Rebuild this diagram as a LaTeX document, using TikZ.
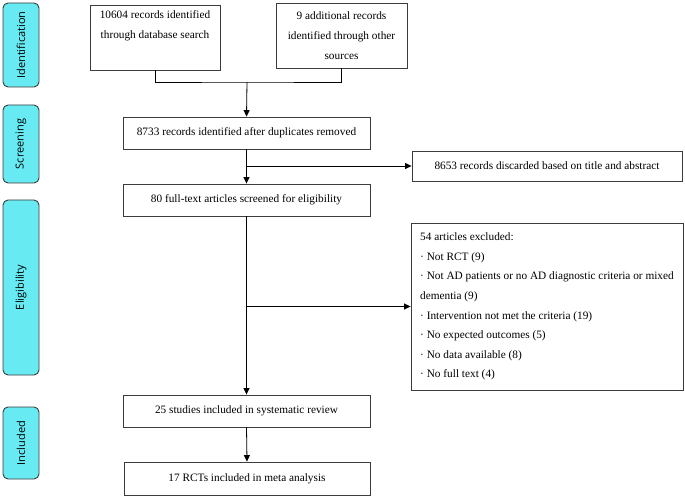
\documentclass[tikz,border=0pt]{standalone}
\usepackage{fontspec}
\setmainfont{Liberation Serif}
\newfontfamily\phasefont{Open Sans}
\usepackage{tikz}
\usetikzlibrary{arrows.meta}
\definecolor{phasecyan}{RGB}{104,234,242}
\definecolor{boxline}{RGB}{60,60,60}
\tikzset{
  recbox/.style={draw=boxline,line width=0.9pt,fill=white,align=center,
    font=\fontsize{11.3}{20}\selectfont,inner sep=2pt},
  phase/.style={draw=boxline,line width=0.9pt,fill=phasecyan,rounded corners=5pt,
    rotate=90,font=\phasefont\fontsize{11}{13}\selectfont,minimum height=36pt},
  flow/.style={black,line width=0.8pt}
}
\begin{document}
\begin{tikzpicture}[x=1pt,y=-1pt]
\useasboundingbox (0,0) rectangle (685,497);
\begin{scope}[>={Triangle[length=6.5pt,width=6pt]}]
    % phase labels
    \node[phase,minimum width=84pt]  (identification) at (21,45)    {Identification};
    \node[phase,minimum width=78pt]  (screening)      at (21,144)   {Screening};
    \node[phase,minimum width=175pt] (eligibility)    at (21,287.5) {Eligibility};
    \node[phase,minimum width=72pt]  (included)       at (21,443)   {Included};

    % records
    \node[recbox,minimum width=130pt,minimum height=65pt] (dbsearch) at (155,37.5)
        {10604 records identified\\through database search\\\strut};
    \node[recbox,minimum width=131pt,minimum height=65pt] (othersrc) at (341.5,35.5)
        {9 additional records\\identified through other\\sources};
    \node[recbox,minimum width=247pt,minimum height=32pt] (dedup) at (246.5,133)
        {8733 records identified after duplicates removed};
    \node[recbox,minimum width=270pt,minimum height=30pt] (discard) at (547,166)
        {8653 records discarded based on title and abstract};
    \node[recbox,minimum width=247pt,minimum height=32pt] (fulltext) at (246.5,200)
        {80 full-text articles screened for eligibility};
    \node[recbox,minimum width=272pt,minimum height=167pt,align=left,
          font=\fontsize{11.3}{19.6}\selectfont] (excluded) at (547,306.5)
        {54 articles excluded:\\
         · Not RCT (9)\\
         · Not AD patients or no AD diagnostic criteria or mixed\\
         dementia (9)\\
         · Intervention not met the criteria (19)\\
         · No expected outcomes (5)\\
         · No data available (8)\\
         · No full text (4)};
    \node[recbox,minimum width=247pt,minimum height=32pt] (review) at (246.5,411)
        {25 studies included in systematic review};
    \node[recbox,minimum width=246pt,minimum height=33pt] (meta) at (247,478.5)
        {17 RCTs included in meta analysis};

    % connectors
    \coordinate (merge) at (247,82);
    \draw[flow] (dbsearch.south) |- (merge) -| (othersrc.south);
    \draw[flow,->] (merge) -- (dedup.north);
    \draw[flow,->] (dedup.south) -- (fulltext.north);
    \draw[flow,->] (dedup.south |- discard.west) -- (discard.west);
    \draw[flow,->] (fulltext.south) -- (review.north);
    \draw[flow,->] (fulltext.south |- excluded.west) -- (excluded.west);
    \draw[flow,->] (review.south) -- (meta.north);
\end{scope}
\end{tikzpicture}
\end{document}
